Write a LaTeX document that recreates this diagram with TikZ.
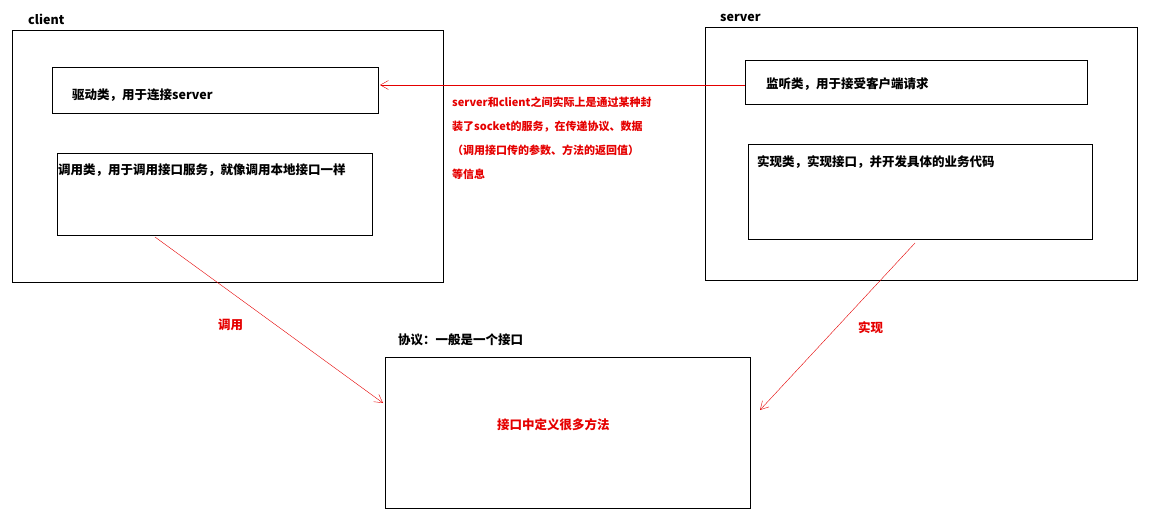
\documentclass[tikz,border=0pt]{standalone}
\usepackage{fontspec}
\setmainfont{Noto Sans CJK SC}
\usetikzlibrary{arrows.meta}
\colorlet{linkcolor}{red!90!black}
\tikzset{
	box/.style     = {draw, thick, inner sep=0pt},
	lbl/.style     = {anchor=west, inner sep=0pt, font=\bfseries\fontsize{12.5}{14}\selectfont},
	redlbl/.style  = {lbl, text=linkcolor},
	link/.style    = {linkcolor, -{Straight Barb[length=8pt,width=9pt]}},
}
\begin{document}
\begin{tikzpicture}[x=1pt,y=-1pt]
	\useasboundingbox (0,0) rectangle (1152,523);

	% the boxes
	\draw[box] (12,30) rectangle (443,282);
	\draw[box] (52,67) rectangle (378,113);
	\draw[box] (57,153) rectangle (372,235);
	\draw[box] (705,27) rectangle (1137,280);
	\draw[box] (745,60) rectangle (1087,104);
	\draw[box] (748,144) rectangle (1092,239);
	\draw[box] (385,357) rectangle (750,508);

	% the texts
	\node[lbl] (client) at (28,19) {client};
	\node[lbl] (server) at (720,18) {server};
	\node[lbl] (driver) at (72,95) {驱动类，用于连接server};
	\node[lbl] (caller) at (58,170) {调用类，用于调用接口服务，就像调用本地接口一样};
	\node[lbl] (listen) at (766,84) {监听类，用于接受客户端请求};
	\node[lbl] (impl) at (757,162) {实现类，实现接口，并开发具体的业务代码};
	\node[lbl] (proto) at (398,340) {协议：一般是一个接口};
	\node[redlbl] (methods) at (497,425) {接口中定义很多方法};
	\node[redlbl] (call) at (218,325) {调用};
	\node[redlbl] (realize) at (858,328) {实现};
	\node[redlbl, anchor=north west, align=left, font=\bfseries\fontsize{11}{24}\selectfont]
		(note) at (452,97) {server和client之间实际上是通过某种封\\装了socket的服务，在传递协议、数据\\（调用接口传的参数、方法的返回值）\\等信息};

	% the arrows
	\coordinate (a1) at (745,85);
	\coordinate (a2) at (380,85);
	\coordinate (b1) at (155,237);
	\coordinate (b2) at (383,403);
	\coordinate (c1) at (915,243);
	\coordinate (c2) at (760,410);
	\draw[link] (a1) -- (a2);
	\draw[link] (b1) -- (b2);
	\draw[link] (c1) -- (c2);
\end{tikzpicture}
\end{document}
